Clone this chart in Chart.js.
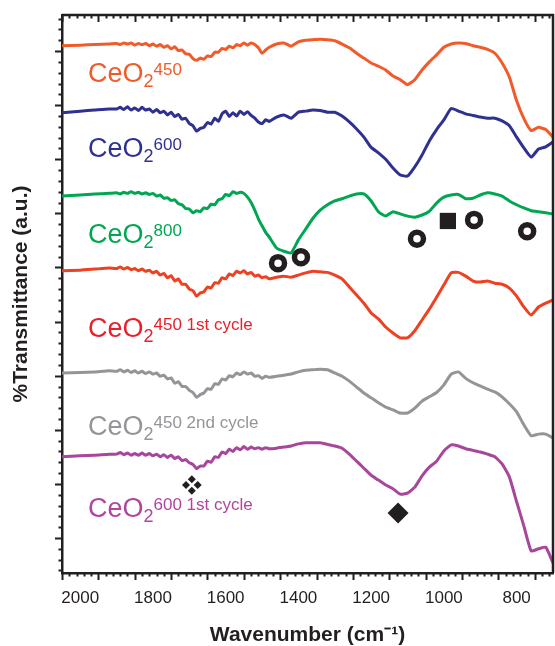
<!DOCTYPE html>
<html>
<head>
<meta charset="utf-8">
<script src="https://cdn.jsdelivr.net/npm/chart.js@4.4.0/dist/chart.umd.min.js"></script>
<style>
  html, body { margin: 0; padding: 0; background: #fff; }
</style>
</head>
<body>
<canvas id="chart-ftir" width="555" height="646"></canvas>
<script>
// wavenumber grid (cm-1), shared by every spectrum; finer where the spectra are noisy
const wavenumbers = [2050, 2000, 1960, 1920,
    1900, 1890, 1880, 1870, 1860, 1850, 1840, 1830, 1820, 1810,
    1800, 1790, 1780, 1770, 1760, 1750, 1740, 1730, 1720, 1710,
    1700, 1690, 1680, 1670, 1660, 1650, 1640, 1630, 1620, 1610,
    1600, 1590, 1580, 1570, 1560, 1550, 1540, 1530, 1520, 1510,
    1500, 1490, 1480,
    1460, 1440, 1420, 1400, 1380, 1360, 1340, 1320, 1300, 1280,
    1260, 1240, 1220, 1200, 1180, 1160, 1140, 1120, 1100, 1080,
    1060, 1040, 1020, 1000, 980, 960, 940, 920, 900, 880,
    860, 840, 820, 800, 780, 760, 740, 720, 700];

// offset spectra (a.u.)
const ceo2_450 = [91.0, 91.1, 91.2, 91.3,
    91.4, 91.2, 91.5, 91.3, 91.5, 91.1, 91.4, 91.2, 91.4, 91.0,
    91.3, 90.9, 91.2, 90.7, 91.0, 90.4, 90.8, 90.1, 90.2, 89.5,
    89.4, 88.6, 88.3, 88.7, 88.5, 89.1, 89.0, 89.8, 89.8, 90.5,
    90.3, 90.9, 90.6, 91.2, 91.0, 91.5, 91.1, 91.5, 91.2, 90.6,
    89.6, 90.2, 90.7,
    91.3, 91.5, 90.9, 91.7, 92.0, 92.1, 92.2, 92.1, 91.9, 91.3,
    90.6, 89.6, 88.7, 87.8, 87.2, 86.5, 85.4, 84.7, 83.8, 84.7,
    86.5, 88.0, 89.3, 90.7, 91.3, 91.5, 91.4, 91.0, 90.7, 90.3,
    89.6, 87.8, 85.2, 80.8, 77.5, 75.3, 75.9, 75.5, 74.1];

const ceo2_600 = [78.6, 78.9, 79.1, 79.3,
    79.3, 79.6, 79.2, 79.7, 79.1, 79.5, 79.0, 79.6, 79.1, 79.3,
    78.7, 79.2, 78.6, 78.9, 78.2, 78.7, 77.9, 78.3, 77.4, 77.6,
    76.6, 76.2, 75.2, 75.7, 75.9, 76.8, 76.5, 77.6, 77.0, 78.4,
    78.9, 77.9, 78.6, 78.0, 78.9, 78.3, 78.8, 78.1, 77.6, 76.9,
    76.6, 77.3, 77.0,
    77.8, 78.2, 77.6, 78.7, 78.9, 79.1, 79.0, 78.7, 78.7, 78.0,
    76.9, 75.6, 74.1, 72.2, 71.2, 70.0, 68.4, 67.1, 66.9, 68.6,
    70.8, 73.4, 75.5, 77.3, 79.4, 78.9, 78.4, 78.1, 77.8, 77.6,
    77.6, 77.1, 76.2, 74.1, 72.1, 70.4, 71.9, 72.3, 73.2];

const ceo2_800 = [63.2, 63.4, 63.6, 63.7,
    63.8, 63.6, 63.9, 63.7, 64.0, 63.7, 63.9, 63.6, 63.8, 63.5,
    63.7, 63.2, 63.4, 62.8, 62.9, 62.4, 62.5, 61.8, 61.6, 60.9,
    60.8, 60.1, 60.5, 60.3, 61.0, 60.9, 61.7, 61.6, 62.5, 62.7,
    63.5, 63.3, 64.0, 63.7, 63.9, 63.7, 63.0, 62.0, 60.6, 59.0,
    57.7, 56.5, 55.6,
    53.6, 53.0, 52.7, 55.1, 57.1, 59.1, 60.6, 61.6, 62.3, 62.7,
    63.2, 63.6, 63.6, 62.3, 60.3, 59.5, 60.3, 59.9, 59.5, 59.3,
    59.7, 60.4, 61.9, 63.0, 63.4, 63.5, 62.7, 62.8, 63.4, 63.8,
    63.6, 63.2, 62.3, 61.6, 61.0, 60.5, 60.3, 60.1, 59.9];

const ceo2_450_1st = [49.4, 49.5, 49.7, 49.9,
    49.8, 50.1, 49.7, 50.0, 49.6, 49.8, 49.4, 49.7, 49.3, 49.5,
    49.0, 49.3, 48.6, 48.9, 48.1, 48.5, 47.5, 47.9, 46.9, 46.9,
    46.0, 45.7, 44.7, 45.3, 45.5, 46.4, 46.2, 47.2, 47.1, 48.1,
    47.9, 48.8, 48.5, 49.3, 49.0, 49.4, 48.8, 49.1, 48.4, 48.6,
    48.1, 48.3, 47.9,
    48.2, 48.4, 48.2, 48.6, 49.0, 49.3, 49.2, 49.1, 48.6, 47.9,
    46.4, 44.9, 43.4, 41.6, 40.5, 39.0, 37.9, 37.0, 37.0, 38.3,
    40.3, 42.3, 44.5, 46.8, 49.0, 49.1, 48.4, 47.5, 47.3, 47.5,
    47.1, 46.9, 46.2, 44.7, 42.7, 41.2, 42.7, 43.4, 44.0];

const ceo2_450_2nd = [30.5, 30.6, 30.7, 30.9,
    30.8, 31.1, 30.7, 31.0, 30.6, 30.9, 30.5, 30.8, 30.4, 30.7,
    30.3, 30.5, 29.9, 30.1, 29.4, 29.6, 28.6, 28.9, 28.0, 28.0,
    27.3, 26.9, 26.0, 26.5, 26.8, 27.6, 27.5, 28.5, 28.4, 29.4,
    29.2, 30.0, 29.8, 30.5, 30.2, 30.7, 30.3, 30.5, 29.9, 30.0,
    29.5, 29.9, 29.7,
    29.9, 30.1, 30.3, 30.7, 31.0, 31.1, 31.2, 31.1, 30.5, 29.9,
    29.0, 27.9, 26.8, 25.9, 25.0, 24.2, 23.7, 23.1, 23.1, 24.0,
    25.3, 26.1, 26.9, 28.3, 30.3, 30.7, 29.5, 28.7, 28.1, 27.5,
    27.0, 26.1, 24.8, 23.3, 20.9, 18.9, 19.2, 19.2, 18.5];

const ceo2_600_1st = [15.0, 15.2, 15.3, 15.5,
    15.5, 15.8, 15.4, 15.7, 15.3, 15.6, 15.3, 15.7, 15.3, 15.6,
    15.2, 15.5, 15.0, 15.4, 14.9, 15.3, 14.7, 15.0, 14.3, 14.5,
    13.9, 13.6, 12.8, 13.3, 13.3, 14.2, 14.0, 15.0, 14.9, 15.9,
    15.6, 16.4, 16.0, 16.7, 16.3, 16.9, 16.4, 16.8, 16.5, 16.7,
    16.4, 16.7, 16.5,
    16.6, 16.8, 17.0, 17.4, 17.6, 17.6, 17.6, 17.3, 17.0, 16.6,
    15.5, 14.2, 12.9, 11.6, 10.7, 9.8, 9.1, 8.1, 8.3, 9.4,
    11.5, 13.1, 14.2, 16.1, 17.2, 17.0, 16.5, 16.2, 15.9, 15.5,
    15.0, 13.7, 11.3, 6.7, 2.2, -2.4, -2.0, -1.7, -4.6];

// band markers
const ringX = [1456, 1393, 1074, 917, 771];
const ringY = [50.8, 51.9, 55.3, 58.8, 56.7];
const squareX = [989];
const squareY = [58.6];
const diamondX = [1126];
const diamondY = [4.6];
const smallDiamondX = [1693, 1693, 1709, 1677];
const smallDiamondY = [10.85, 8.75, 9.8, 9.8];

const xTickLabels = [2000, 1800, 1600, 1400, 1200, 1000, 800];

const INK = '#231f20';

const spectra = [
    { data: ceo2_450, color: '#f15a29', label: { main: 'CeO', sub: '2', sup: '450', color: '#f15a29', y: 82 } },
    { data: ceo2_600, color: '#2e3192', label: { main: 'CeO', sub: '2', sup: '600', color: '#2e3192', y: 157 } },
    { data: ceo2_800, color: '#00a651', label: { main: 'CeO', sub: '2', sup: '800', color: '#00a651', y: 243 } },
    { data: ceo2_450_1st, color: '#ee4123', label: { main: 'CeO', sub: '2', sup: '450 1st cycle', color: '#e8202a', y: 337 } },
    { data: ceo2_450_2nd, color: '#939598', label: { main: 'CeO', sub: '2', sup: '450 2nd cycle', color: '#939598', y: 435 } },
    { data: ceo2_600_1st, color: '#a8469b', label: { main: 'CeO', sub: '2', sup: '600 1st cycle', color: '#b0459f', y: 517 } }
];

function toPoints(xs, ys) {
    return xs.map((x, i) => ({ x, y: ys[i] }));
}

const markerSets = [
    { data: toPoints(ringX, ringY), pointStyle: 'circle', pointRadius: 6.5, pointBorderWidth: 5.5, pointBackgroundColor: '#fff', pointBorderColor: INK },
    { data: toPoints(squareX, squareY), pointStyle: 'rect', pointRadius: 11.5, pointBorderWidth: 0, pointBackgroundColor: INK, pointBorderColor: INK },
    { data: toPoints(diamondX, diamondY), pointStyle: 'rectRot', pointRadius: 10.5, pointBorderWidth: 0, pointBackgroundColor: INK, pointBorderColor: INK },
    { data: toPoints(smallDiamondX, smallDiamondY), pointStyle: 'rectRot', pointRadius: 4, pointBorderWidth: 0, pointBackgroundColor: INK, pointBorderColor: INK }
].map(m => Object.assign({ type: 'scatter', showLine: false, pointHoverRadius: 0 }, m));

const lineSets = spectra.map(s => ({
    type: 'line',
    data: toPoints(wavenumbers, s.data),
    borderColor: s.color,
    borderWidth: 3,
    pointRadius: 0,
    tension: 0.15,
    fill: false
}));

// axis frame ticks (major every 100, minor every 20) + top/right border
const frameTicks = {
    id: 'frameTicks',
    afterDraw(chart) {
        const { ctx, chartArea: a, scales: { x, y } } = chart;
        ctx.save();
        ctx.strokeStyle = INK;
        ctx.lineWidth = 2.5;
        ctx.beginPath();
        ctx.moveTo(a.left, a.top);
        ctx.lineTo(a.right, a.top);
        ctx.lineTo(a.right, a.bottom);
        ctx.stroke();

        ctx.lineWidth = 2;
        ctx.beginPath();
        for (let j = 0; 2050 - 20 * j >= 700; j++) {
            const px = Math.round(x.getPixelForValue(2050 - 20 * j)) + 0.5;
            const len = j % 5 === 0 ? 7 : 3.5;
            ctx.moveTo(px, a.bottom);
            ctx.lineTo(px, a.bottom + len);
            ctx.moveTo(px, a.top);
            ctx.lineTo(px, a.top + len);
        }
        for (let v = -6; v <= 96; v += 2) {
            const py = Math.round(y.getPixelForValue(v)) + 0.5;
            const len = v % 10 === 0 ? 7 : 3.5;
            ctx.moveTo(a.left - len, py);
            ctx.lineTo(a.left, py);
        }
        ctx.stroke();
        ctx.restore();
    }
};

// series names with sub/superscripts
const seriesNames = {
    id: 'seriesNames',
    afterDatasetsDraw(chart) {
        const ctx = chart.ctx;
        const fam = '"Liberation Sans", Arial, sans-serif';
        ctx.save();
        ctx.textBaseline = 'alphabetic';
        ctx.textAlign = 'left';
        spectra.forEach(s => {
            const l = s.label;
            let x = 88;
            ctx.fillStyle = l.color;
            ctx.font = `27px ${fam}`;
            ctx.fillText(l.main, x, l.y);
            x += ctx.measureText(l.main).width;
            ctx.font = `18px ${fam}`;
            ctx.fillText(l.sub, x, l.y + 5);
            x += ctx.measureText(l.sub).width;
            ctx.font = `17px ${fam}`;
            ctx.fillText(l.sup, x, l.y - 7);
        });
        ctx.restore();
    }
};

new Chart(document.getElementById('chart-ftir'), {
    data: { datasets: [...markerSets, ...lineSets] },
    options: {
        responsive: false,
        animation: false,
        events: [],
        layout: { autoPadding: false, padding: { top: 15, right: 2, left: 0, bottom: 0 } },
        plugins: { legend: { display: false }, tooltip: { enabled: false } },
        scales: {
            x: {
                type: 'linear',
                reverse: true,
                min: 700,
                max: 2050,
                afterFit: s => { s.height = 73; s.paddingLeft = 0; s.paddingRight = 0; },
                afterBuildTicks: s => { s.ticks = xTickLabels.map(v => ({ value: v })); },
                grid: { display: false, drawTicks: false },
                border: { display: true, color: INK, width: 2.5 },
                ticks: {
                    color: INK,
                    padding: 15,
                    maxRotation: 0,
                    autoSkip: false,
                    font: { family: '"Liberation Sans", Arial, sans-serif', size: 17 },
                    callback: v => String(v)
                },
                title: {
                    display: true,
                    text: 'Wavenumber (cm\u207B\u00B9)',
                    color: INK,
                    font: { family: '"Liberation Sans", Arial, sans-serif', size: 21, weight: 'bold', lineHeight: 1 },
                    padding: { top: 0, bottom: 0 }
                }
            },
            y: {
                type: 'linear',
                min: -6.47,
                max: 96.67,
                afterFit: s => { s.width = 62; s.paddingTop = 0; s.paddingBottom = 0; },
                grid: { display: false, drawTicks: false },
                border: { display: true, color: INK, width: 2.5 },
                ticks: { display: false },
                title: {
                    display: true,
                    text: '%Transmittance (a.u.)',
                    color: INK,
                    font: { family: '"Liberation Sans", Arial, sans-serif', size: 21, weight: 'bold', lineHeight: 1 },
                    padding: { top: 11, bottom: 0 }
                }
            }
        }
    },
    plugins: [frameTicks, seriesNames]
});
</script>
